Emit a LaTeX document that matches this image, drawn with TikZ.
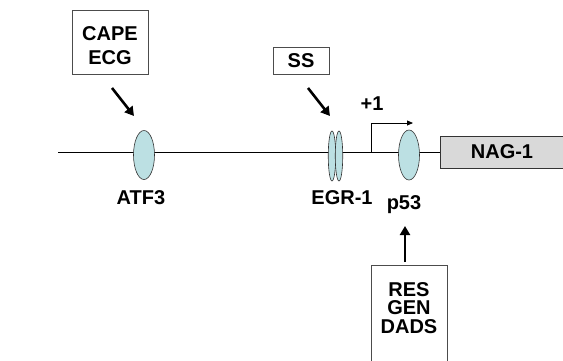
\documentclass[tikz,border=0pt]{standalone}
\usepackage{fontspec}
\setmainfont{Liberation Sans}[BoldFont={Liberation Sans Bold}]
\usetikzlibrary{arrows.meta,shapes.geometric}
\definecolor{site}{HTML}{BCE0E3}
\definecolor{genebox}{HTML}{D9D9D9}
\begin{document}
\begin{tikzpicture}[x=1pt,y=-1pt,
  lbl/.style={font=\fontsize{20}{24}\selectfont\bfseries, inner sep=0pt},
  agent/.style={draw=black!70, line width=0.8pt, fill=white, inner sep=0pt},
  bsite/.style={draw=black!80, line width=0.6pt, fill=site, ellipse, minimum width=21pt, minimum height=49pt, inner sep=0pt},
  thinsite/.style={draw=black!80, line width=0.6pt, fill=site, ellipse, minimum width=7.5pt, minimum height=50pt, inner sep=0pt},
  fat/.style={line width=2.6pt, -{Triangle[length=9pt,width=10pt]}},
]
\useasboundingbox (0,0) rectangle (563,360);
\clip (0,0) rectangle (563,360);
% DNA line
\coordinate (L) at (58,152);
\node[draw=black!80, line width=0.8pt, fill=genebox, minimum width=130pt, minimum height=32pt, anchor=west, inner sep=0pt] (nag) at (440,152) {};
\node[lbl] (nagt) at (502,152) {NAG-1};
\draw[line width=0.8pt] (L) -- (nag.west);
% TSS
\coordinate (tss) at (371,152);
\coordinate (tssTop) at (371,123);
\coordinate (tssEnd) at (413,123);
\draw[line width=0.8pt, -{Triangle[length=6pt,width=5pt]}] (tss) -- (tssTop) -- (tssEnd);
\node[lbl] (plus1) at (372,104) {+1};
% sites
\node[bsite] (atf3) at (144,155) {};
\node[lbl] (atf3t) at (141,198) {ATF3};
\node[thinsite] (egrA) at (332,156) {};
\node[thinsite] (egrB) at (339,156) {};
\node[lbl] (egrt) at (342,198) {EGR-1};
\node[bsite, minimum height=50pt] (p53) at (409,155) {};
\node[lbl, anchor=base] (p53t) at (404,209) {p53};
% agent boxes
\node[agent, minimum width=76pt, minimum height=64pt] (cape) at (110,42) {};
\node[lbl, anchor=base] (capet) at (110,40) {CAPE};
\node[lbl, anchor=base] (ecgt) at (110,64) {ECG};
\node[agent, minimum width=56pt, minimum height=27pt] (ss) at (301,60.5) {};
\node[lbl] (sst) at (301,61) {SS};
\node[agent, minimum width=76pt, minimum height=120pt, anchor=north] (res) at (409,265) {};
\node[lbl, anchor=base] (rest) at (409,296) {RES};
\node[lbl, anchor=base] (gent) at (409,314.5) {GEN};
\node[lbl, anchor=base] (dadst) at (409,333) {DADS};
% arrows
\coordinate (a1s) at (112,88);
\coordinate (a1e) at (134,116);
\draw[fat] (a1s) -- (a1e);
\coordinate (a2s) at (308,88);
\coordinate (a2e) at (330,116);
\draw[fat] (a2s) -- (a2e);
\coordinate (a3s) at (405,262);
\coordinate (a3e) at (405,226);
\draw[fat] (a3s) -- (a3e);
\end{tikzpicture}
\end{document}
